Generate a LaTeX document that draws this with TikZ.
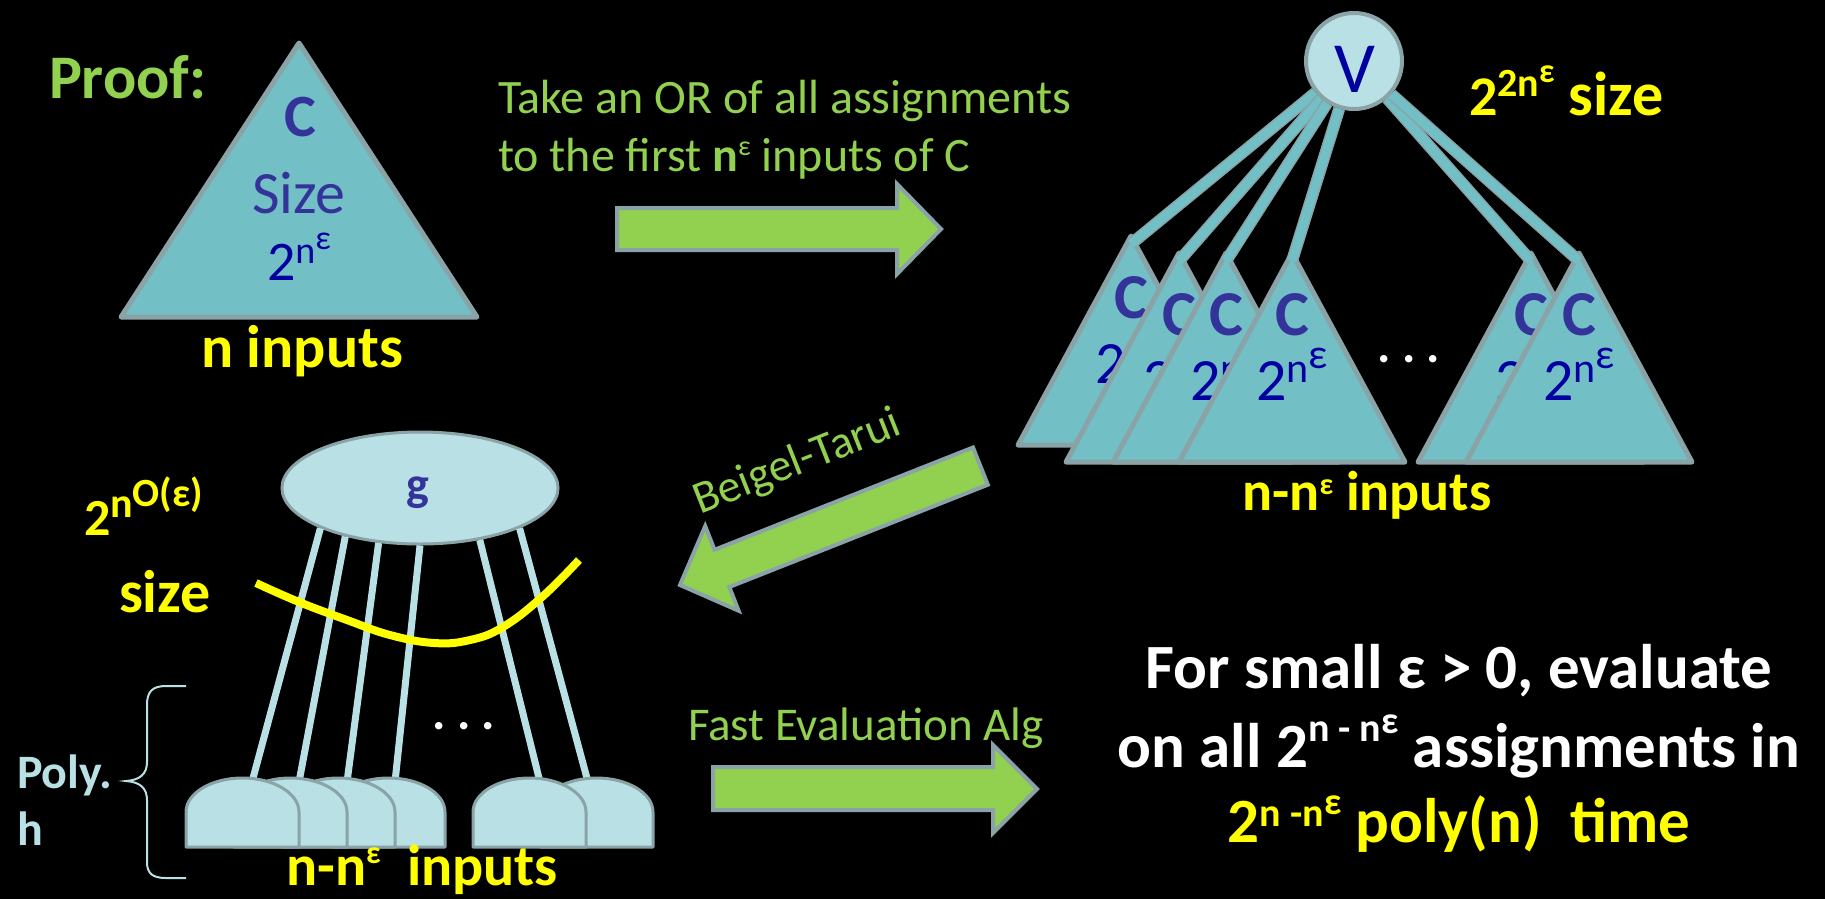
\documentclass[tikz,border=0pt]{standalone}
\usepackage{fontspec}
\setmainfont{Carlito}
\usetikzlibrary{shapes.geometric}
\definecolor{grn}{HTML}{92D050}
\definecolor{yel}{HTML}{FFFF00}
\definecolor{tealf}{HTML}{72BFC5}
\definecolor{lcyan}{HTML}{B9E0E4}
\definecolor{edgec}{HTML}{8AA3A7}
\definecolor{navya}{HTML}{333399}
\definecolor{navyb}{HTML}{0000A0}
\newcommand{\fsz}[1]{\fontsize{#1}{#1}\selectfont}
\newcommand{\up}[3]{\raisebox{#1pt}{\fsz{#2}#3}}
\begin{document}
\begin{tikzpicture}[x=1pt, y=-1pt,
  lbl/.style={inner sep=0pt, outer sep=0pt, anchor=base},
  tri/.style={fill=tealf, draw=edgec, line width=5pt, line join=round},
  gate/.style={fill=lcyan, draw=edgec, line width=3pt, line join=round},
  fatarrow/.style={fill=grn, draw=edgec, line width=4pt, line join=miter},
  vwire/.style={draw=edgec, line width=1.5pt, double=tealf, double distance=9pt},
  gwire/.style={draw=lcyan, line width=7pt}]
\useasboundingbox (0,0) rectangle (1825,898);
\fill[black] (-10,-10) rectangle (1835,908);

% ---- top-left circuit C
\node[lbl, anchor=base west, text=grn, font=\bfseries\fsz{62}] (proof) at (49,98) {Proof:};
\draw[tri] (299,43) -- (121,317) -- (477,317) -- cycle;
\node[lbl, text=navya, font=\bfseries\fsz{60}] (bc) at (300,136) {C};
\node[lbl, text=navya, font=\fsz{60}] (bsize) at (299,213) {Size};
\node[lbl, text=navyb, font=\fsz{56}] (bexp) at (299,280) {2\up{17}{38}{n\up{14}{34}{ε}}};
\node[lbl, text=yel, font=\bfseries\fsz{60}] (nin) at (302,367) {n inputs};

% ---- top text and arrow
\node[lbl, anchor=base west, text=grn, font=\fsz{48}] (tx1) at (498,113) {Take an OR of all assignments};
\node[lbl, anchor=base west, text=grn, font=\fsz{48}] (tx2) at (498,171) {to the first \textbf{n}\up{16}{28}{ε} inputs of C};
\draw[fatarrow] (617,208) -- (897,208) -- (897,184) -- (941,229) -- (897,274) -- (897,250) -- (617,250) -- cycle;

% ---- OR of copies
\node[circle, fill=lcyan, draw=edgec, line width=4pt, minimum size=96pt, inner sep=0pt] (V) at (1354,61) {};
\node[lbl, text=navyb, font=\fsz{72}] (vlab) at (1355,92) {V};
\node[lbl, anchor=base west, text=yel, font=\bfseries\fsz{56}] (vsize) at (1469,115) {2\up{19}{40}{2n\up{14}{34}{ε}}\fsz{62}\ size};

\foreach \ax/\ay/\n in {1131/236/1, 1179/253/2, 1226/253/3, 1292/253/4, 1531/253/5, 1579/253/6} {
  \draw[tri] (\ax,\ay) -- ++(-113,209) -- ++(226,0) -- cycle;
  \node[lbl, text=navya, font=\bfseries\fsz{64}] (c\n) at (\ax,\ay+82) {C};
  \node[lbl, text=navyb, font=\fsz{60}] (e\n) at (\ax,\ay+147) {2\up{18}{42}{n\up{14}{42}{ε}}};
  \coordinate (a\n) at (\ax,\ay+8);
}
\foreach \n in {1,...,6} \draw[vwire] (V) -- (a\n);
\node[lbl, text=white, font=\bfseries\fsz{50}] (dots1) at (1409,362) {.\ .\ .};
\node[lbl, text=yel, font=\bfseries\fsz{56}] (nin2) at (1367,510) {n-n\up{16}{30}{ε} inputs};

% ---- Beigel-Tarui arrow
\draw[fatarrow] (973.0,447.5) -- (987.8,484.7) -- (729.3,587) -- (738.6,610.7) -- (680,585) -- (705.2,526.1) -- (714.5,549.8) -- cycle;
\node[lbl, text=grn, font=\fsz{46}, rotate=21.6] (bt) at (802,474) {Beigel-Tarui};

% ---- lower-left circuit
\node[ellipse, fill=lcyan, draw=edgec, line width=3pt, minimum width=276pt, minimum height=112pt, inner sep=0pt] (g) at (420,488) {};
\node[lbl, text=navya, font=\bfseries\fsz{48}] (glab) at (418,500) {g};
\node[lbl, anchor=base west, text=yel, font=\bfseries\fsz{52}] (gsz) at (84,535) {2\up{18}{42}{n\up{11}{40}{O(ε)}}};
\node[lbl, anchor=base west, text=yel, font=\bfseries\fsz{60}] (gsz2) at (119,612) {size};

\coordinate (gt1) at (252,782);
\coordinate (gt2) at (299,782);
\coordinate (gt3) at (347,782);
\coordinate (gt4) at (395,782);
\coordinate (gt5) at (540,782);
\coordinate (gt6) at (588,782);
\draw[gwire] (g.202) -- (gt1);
\draw[gwire] (g.213) -- (gt2);
\draw[gwire] (g.233) -- (gt3);
\draw[gwire] (g.270) -- (gt4);
\draw[gwire] (g.319) -- (gt5);
\draw[gwire] (g.338) -- (gt6);
\foreach \L in {540,473,332,282,234,186}
  \draw[gate] (\L,847) -- (\L,812) arc[start angle=180, end angle=0, x radius=56.5pt, y radius=34pt] -- (\L+113,847) -- cycle;
\draw[yel, line width=8pt] plot[smooth, tension=0.7] coordinates {(256,583) (299,602) (347,620) (390,635) (434,643) (470,640) (503,627) (542,597) (579,560)};
\node[lbl, text=white, font=\bfseries\fsz{50}] (dots2) at (464,729) {.\ .\ .};
\node[lbl, text=yel, font=\bfseries\fsz{58}] (nin3) at (422,885) {n-n\up{22}{32}{ε}\ \ inputs};

\draw[lcyan, line width=2pt] (186,686) -- (166,686) .. controls (152,686) and (147,692) .. (147,705) -- (147,762) .. controls (147,774) and (140,780) .. (126,781) .. controls (140,782) and (147,788) .. (147,800) -- (147,862) .. controls (147,873) and (152,878) .. (166,878) -- (186,878);
\node[lbl, anchor=base west, text=lcyan, font=\bfseries\fsz{48}] (poly) at (17,788) {Poly.};
\node[lbl, anchor=base west, text=lcyan, font=\bfseries\fsz{48}] (hh) at (17,845) {h};

% ---- fast evaluation
\node[lbl, anchor=base west, text=grn, font=\fsz{47}] (fe) at (688,740) {Fast Evaluation Alg};
\draw[fatarrow] (713,767) -- (993,767) -- (993,745) -- (1037,789) -- (993,833) -- (993,810) -- (713,810) -- cycle;

\node[lbl, text=white, font=\bfseries\fsz{63}] (f1) at (1459,688) {For small ε > 0, evaluate};
\node[lbl, text=white, font=\bfseries\fsz{63}] (f2) at (1459,767) {on all 2\up{26}{40}{n - n\up{8}{38}{ε}} assignments in};
\node[lbl, text=yel, font=\bfseries\fsz{63}] (f3) at (1459,842) {2\up{16}{40}{n -n\up{12}{38}{ε}} poly(n)\ \ time};
\end{tikzpicture}
\end{document}
